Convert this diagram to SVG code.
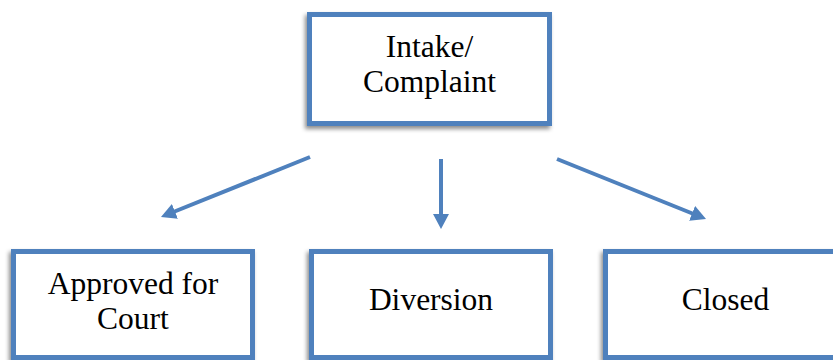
<svg xmlns="http://www.w3.org/2000/svg" width="833" height="360" viewBox="0 0 833 360">
<style>
.box{fill:#ffffff;stroke:#4F81BD;stroke-width:5;filter:url(#sh)}
.lbl{font-family:"Liberation Serif","Times New Roman",serif;font-size:31.5px;fill:#000;text-anchor:middle}
.conn{stroke:#4F81BD;stroke-width:4;fill:none;marker-end:url(#ah)}
</style>
<defs>
<filter id="sh" x="-10%" y="-10%" width="120%" height="130%">
<feDropShadow dx="-2" dy="3" stdDeviation="2" flood-color="#000" flood-opacity="0.45"/>
</filter>
<marker id="ah" markerUnits="userSpaceOnUse" markerWidth="16" markerHeight="17" refX="3" refY="8" orient="auto">
<path d="M0,0 L15,8 L0,16 z" fill="#4F81BD"/>
</marker>
</defs>
<rect width="833" height="360" fill="#ffffff"/>
<g id="connectors">
<line class="conn" x1="310" y1="157" x2="172.1" y2="212.5"/>
<line class="conn" x1="441" y1="159" x2="441" y2="217"/>
<line class="conn" x1="557" y1="159" x2="694.9" y2="214.5"/>
</g>
<g id="intake">
<rect class="box" x="309.5" y="14.5" width="240" height="109"/>
<text class="lbl" x="429.5" y="57">Intake/</text>
<text class="lbl" x="429.5" y="92">Complaint</text>
</g>
<g id="court">
<rect class="box" x="13.5" y="251.5" width="239" height="106"/>
<text class="lbl" x="133" y="294">Approved for</text>
<text class="lbl" x="133" y="329">Court</text>
</g>
<g id="diversion">
<rect class="box" x="311.5" y="251.5" width="239" height="106"/>
<text class="lbl" x="431" y="310">Diversion</text>
</g>
<g id="closed">
<rect class="box" x="605.5" y="251.5" width="242" height="106"/>
<text class="lbl" x="725.5" y="310">Closed</text>
</g>
</svg>
